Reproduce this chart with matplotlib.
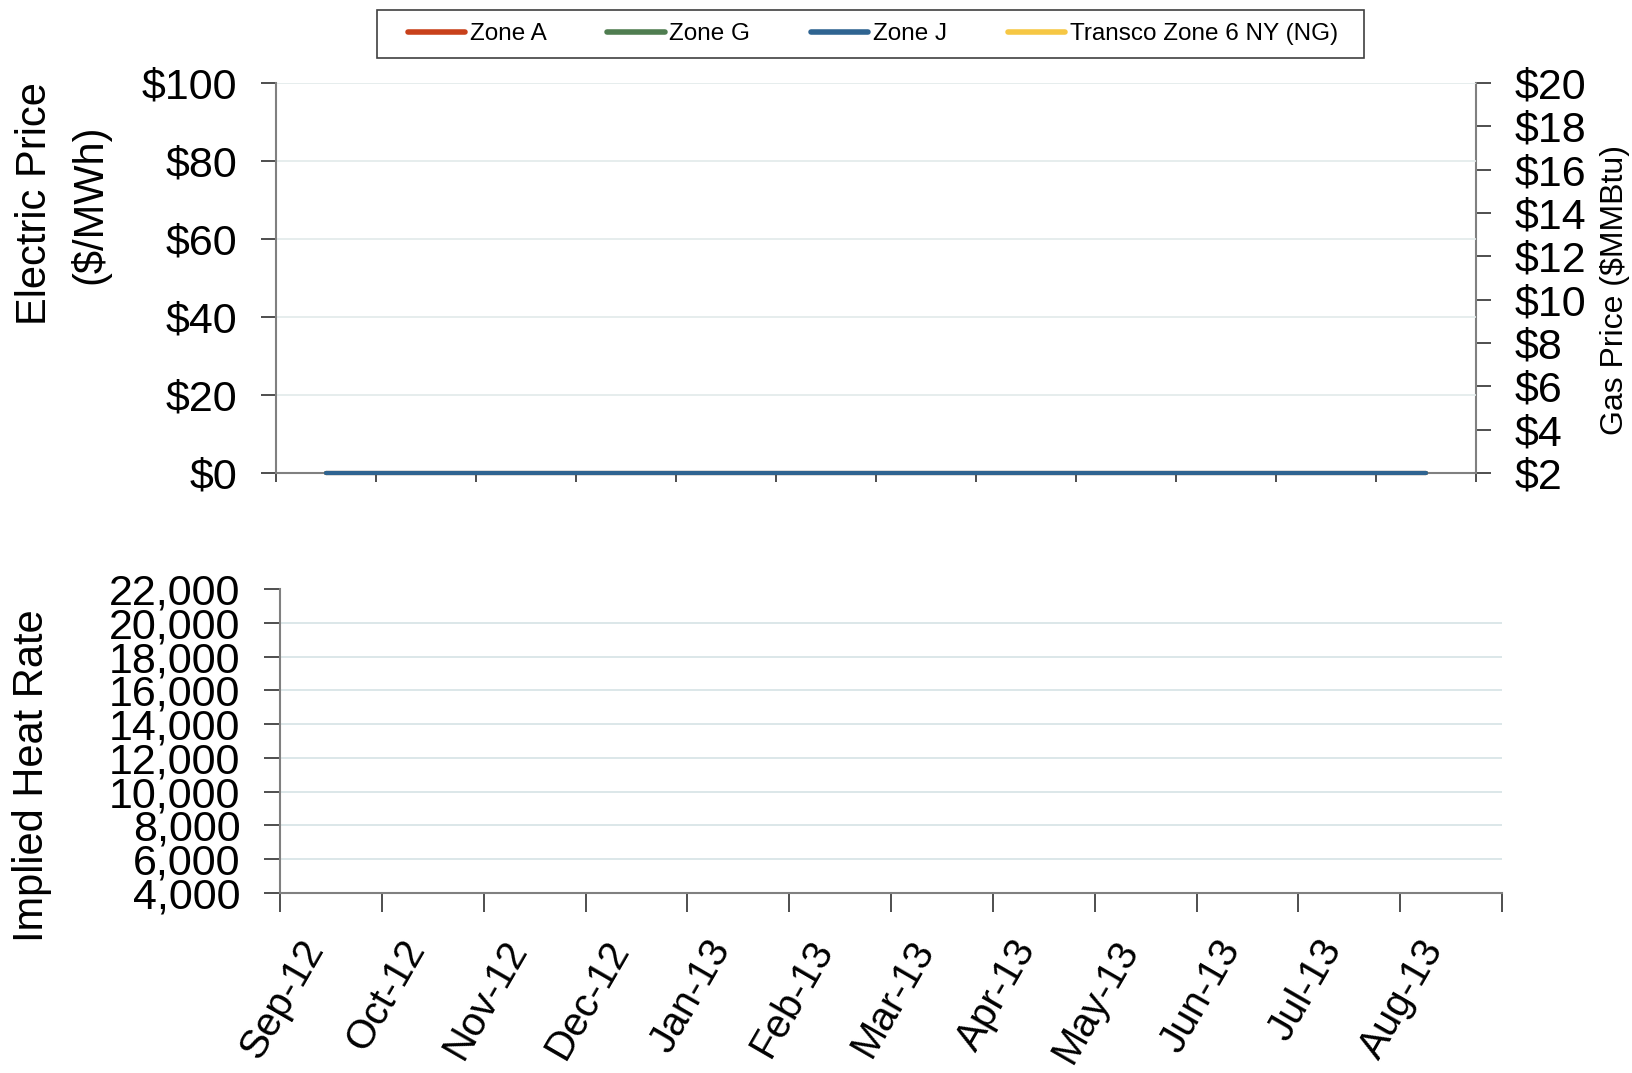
import numpy as np
import matplotlib
matplotlib.use('Agg')
import matplotlib.pyplot as plt
from matplotlib.patches import Rectangle
from matplotlib.ticker import FuncFormatter

plt.rcParams['font.family'] = ['Liberation Sans', 'DejaVu Sans']

months = ['Sep-12', 'Oct-12', 'Nov-12', 'Dec-12', 'Jan-13', 'Feb-13',
          'Mar-13', 'Apr-13', 'May-13', 'Jun-13', 'Jul-13', 'Aug-13']

# monthly electric prices ($/MWh) - every series sits on the $0 line
zone_a = [0, 0, 0, 0, 0, 0, 0, 0, 0, 0, 0, 0]
zone_g = [0, 0, 0, 0, 0, 0, 0, 0, 0, 0, 0, 0]
zone_j = [0, 0, 0, 0, 0, 0, 0, 0, 0, 0, 0, 0]
# gas price ($/MMBtu), below the $2 floor of the right axis
transco = [0, 0, 0, 0, 0, 0, 0, 0, 0, 0, 0, 0]

# implied heat rates: nothing plotted in the source
nan = float('nan')
hr_a = [nan, nan, nan, nan, nan, nan, nan, nan, nan, nan, nan, nan]
hr_g = [nan, nan, nan, nan, nan, nan, nan, nan, nan, nan, nan, nan]
hr_j = [nan, nan, nan, nan, nan, nan, nan, nan, nan, nan, nan, nan]

c_a = '#C8411B'
c_g = '#4F7D50'
c_j = '#2F6491'
c_ng = '#F6C744'
spine_col = '#808080'
tick_col = '#303030'

fig = plt.figure(figsize=(16.33, 10.73), dpi=100)
ax1 = fig.add_axes([0.1690, 0.5592, 0.7348, 0.3635])
ax2 = ax1.twinx()
ax3 = fig.add_axes([0.1715, 0.1678, 0.7483, 0.2833])

x = np.arange(len(months))

# top panel: prices (not clipped, so the $0 lines show in full)
la, = ax1.plot(x, zone_a, color=c_a, lw=3, solid_capstyle='round', clip_on=False, zorder=5, label='Zone A')
lg, = ax1.plot(x, zone_g, color=c_g, lw=3, solid_capstyle='round', clip_on=False, zorder=5, label='Zone G')
lj, = ax1.plot(x, zone_j, color=c_j, lw=3, solid_capstyle='round', clip_on=False, zorder=5, label='Zone J')
lng, = ax2.plot(x, transco, color=c_ng, lw=3, solid_capstyle='round', label='Transco Zone 6 NY (NG)')

ax1.set_xlim(-0.5, len(months) - 0.5)
ax1.set_ylim(0, 100)
ax1.set_yticks(range(0, 101, 20))
ax1.yaxis.set_major_formatter(FuncFormatter(lambda v, p: '${:.0f}'.format(v)))
ax1.set_xticks(np.arange(-0.5, len(months), 1))
ax1.tick_params(axis='x', length=6.5, width=1.2, color=tick_col, labelbottom=False)
ax1.tick_params(axis='y', length=10.8, width=1.2, color=tick_col, pad=17, labelsize=31)
ax1.yaxis.grid(True, color='#E2EAEA', lw=1.2)
ax1.set_axisbelow(True)
for s in ['top', 'right']:
    ax1.spines[s].set_visible(False)
for s in ['left', 'bottom']:
    ax1.spines[s].set_color(spine_col)
    ax1.spines[s].set_linewidth(1.5)

ax2.set_ylim(2, 20)
ax2.set_yticks(range(2, 21, 2))
ax2.yaxis.set_major_formatter(FuncFormatter(lambda v, p: '${:.0f}'.format(v)))
ax2.tick_params(axis='y', length=10.8, width=1.2, color=tick_col, pad=17, labelsize=31)
for s in ['top', 'left', 'bottom']:
    ax2.spines[s].set_visible(False)
ax2.spines['right'].set_color(spine_col)
ax2.spines['right'].set_linewidth(1.5)
ax2.set_zorder(ax1.get_zorder() - 1)
ax1.patch.set_visible(False)

# bottom panel: implied heat rate
ax3.plot(x, hr_a, color=c_a, lw=3)
ax3.plot(x, hr_g, color=c_g, lw=3)
ax3.plot(x, hr_j, color=c_j, lw=3)
ax3.set_xlim(-0.5, len(months) - 0.5)
ax3.set_ylim(4000, 22000)
ax3.set_yticks(range(4000, 22001, 2000))
ax3.yaxis.set_major_formatter(FuncFormatter(lambda v, p: '{:,.0f}'.format(v)))
ax3.set_xticks(x)
ax3.set_xticklabels(months, rotation=60, ha='right', fontsize=29)
ax3.set_xticks(np.arange(-0.5, len(months), 1), minor=True)
ax3.tick_params(axis='x', which='major', length=0, pad=29)
ax3.tick_params(axis='x', which='minor', length=13.7, width=1.2, color=tick_col)
ax3.tick_params(axis='y', length=11.5, width=1.2, color=tick_col, pad=17, labelsize=31)
ax3.yaxis.grid(True, color='#D6E3E5', lw=1.2)
ax3.get_ygridlines()[-1].set_visible(False)
ax3.set_axisbelow(True)
for s in ['top', 'right']:
    ax3.spines[s].set_visible(False)
for s in ['left', 'bottom']:
    ax3.spines[s].set_color(spine_col)
    ax3.spines[s].set_linewidth(1.5)

# axis titles
fig.text(0.0386, 0.81, 'Electric Price\n($/MWh)', rotation=90, ha='center', va='center',
         fontsize=30, linespacing=1.45, multialignment='center')
fig.text(0.989, 0.7297, 'Gas Price ($MMBtu)', rotation=90, ha='center', va='center', fontsize=23)
fig.text(0.0196, 0.277, 'Implied Heat Rate', rotation=90, ha='center', va='center', fontsize=30)

# legend with its own box (wider side padding than matplotlib's frame gives)
fig.patches.append(Rectangle((0.2309, 0.9460), 0.6044, 0.0447, transform=fig.transFigure,
                             facecolor='white', edgecolor='#404040', lw=1.2, zorder=0))
leg = fig.legend([la, lg, lj, lng], ['Zone A', 'Zone G', 'Zone J', 'Transco Zone 6 NY (NG)'],
                 loc='center', bbox_to_anchor=(0.5346, 0.9683), ncol=4, fontsize=17.5,
                 frameon=False, handlelength=2.35, handletextpad=0.2, columnspacing=2.5,
                 borderpad=0.2)
for h in leg.legend_handles:
    h.set_linewidth(4)

fig.savefig('out.png', dpi=100, facecolor='white')
